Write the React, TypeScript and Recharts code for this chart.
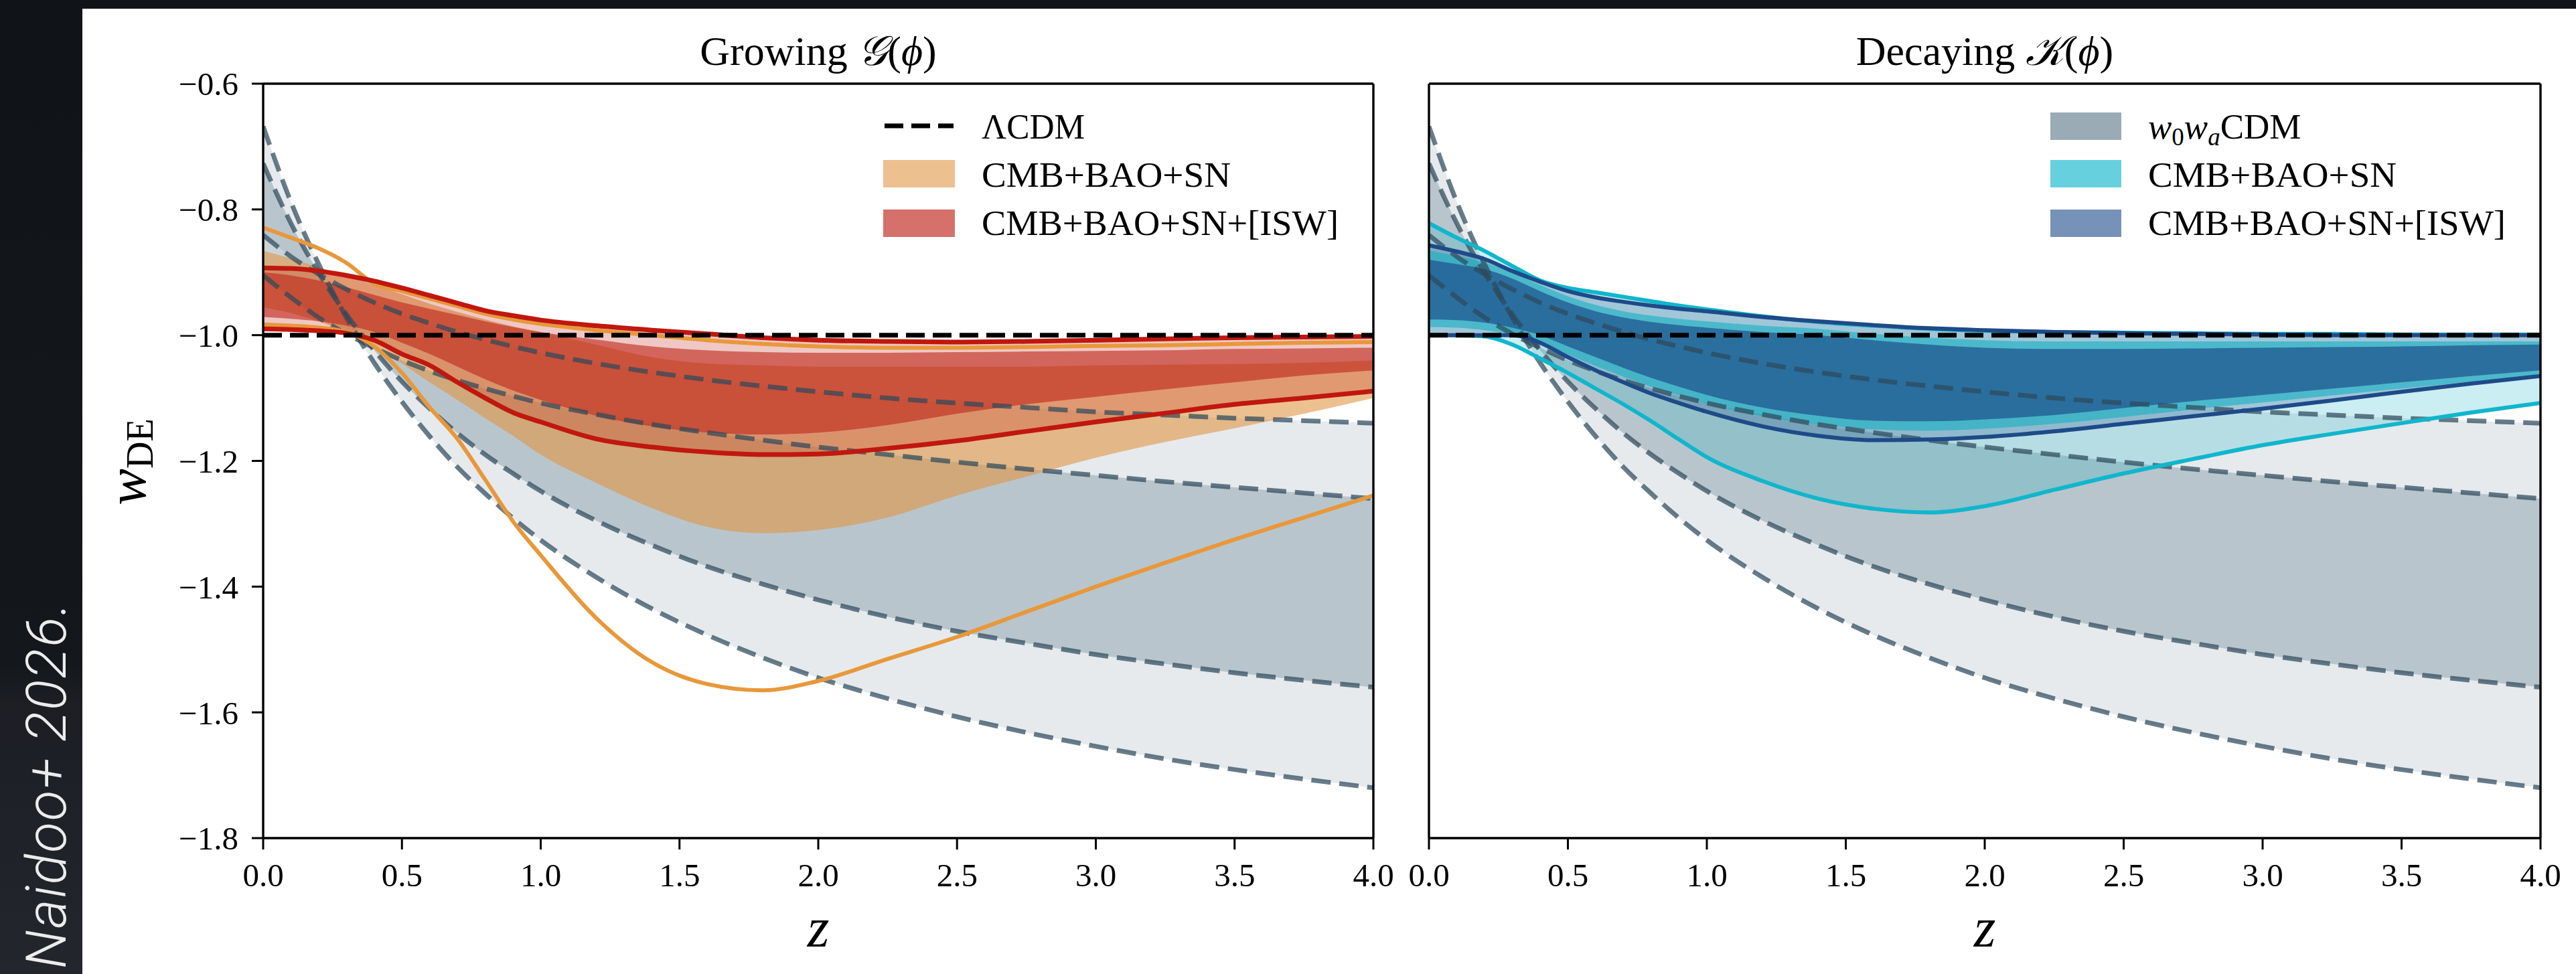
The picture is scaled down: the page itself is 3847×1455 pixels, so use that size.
import React from "react";
import { ComposedChart, Area, Line, XAxis, YAxis, ReferenceLine } from "recharts";

// redshift grid (shared by every curve)
const Z = [0, 0.1, 0.2, 0.3, 0.4, 0.5, 0.6, 0.7, 0.8, 0.9, 1.0, 1.2, 1.4, 1.6, 1.8, 2.0, 2.25, 2.5, 2.75, 3.0, 3.25, 3.5, 3.75, 4.0];

// w0waCDM contours (grey dashed, same in both panels)
const DASH_A = [-0.668, -0.788, -0.887, -0.972, -1.044, -1.106, -1.161, -1.21, -1.252, -1.291, -1.326, -1.385, -1.435, -1.477, -1.513, -1.545, -1.578, -1.607, -1.632, -1.654, -1.674, -1.691, -1.706, -1.72];
const DASH_B = [-0.727, -0.822, -0.901, -0.967, -1.024, -1.074, -1.117, -1.156, -1.19, -1.22, -1.248, -1.295, -1.334, -1.368, -1.396, -1.421, -1.448, -1.471, -1.49, -1.508, -1.523, -1.537, -1.549, -1.56];
const DASH_C = [-0.841, -0.875, -0.903, -0.927, -0.948, -0.966, -0.981, -0.995, -1.007, -1.018, -1.028, -1.045, -1.059, -1.071, -1.081, -1.09, -1.1, -1.108, -1.115, -1.122, -1.127, -1.132, -1.136, -1.14];
const DASH_D = [-0.905, -0.94, -0.972, -0.998, -1.02, -1.04, -1.057, -1.072, -1.085, -1.097, -1.108, -1.126, -1.142, -1.155, -1.167, -1.178, -1.19, -1.202, -1.213, -1.223, -1.233, -1.242, -1.251, -1.26];

// Growing G(phi): CMB+BAO+SN (orange)
const ORANGE_HI_LINE = [-0.829, -0.845, -0.862, -0.885, -0.918, -0.93, -0.942, -0.954, -0.966, -0.975, -0.982, -0.992, -1.0, -1.008, -1.014, -1.018, -1.02, -1.02, -1.019, -1.017, -1.016, -1.014, -1.012, -1.011];
const ORANGE_LO_LINE = [-0.983, -0.985, -0.988, -0.995, -1.018, -1.06, -1.115, -1.165, -1.23, -1.296, -1.35, -1.45, -1.52, -1.555, -1.565, -1.55, -1.515, -1.48, -1.44, -1.4, -1.362, -1.325, -1.29, -1.255];
const ORANGE_BAND_HI = [-0.866, -0.878, -0.892, -0.905, -0.92, -0.935, -0.95, -0.963, -0.975, -0.986, -0.995, -1.015, -1.035, -1.045, -1.048, -1.05, -1.05, -1.05, -1.05, -1.048, -1.047, -1.046, -1.044, -1.04];
const ORANGE_BAND_LO = [-0.956, -0.965, -0.978, -0.995, -1.018, -1.045, -1.075, -1.103, -1.132, -1.16, -1.19, -1.235, -1.275, -1.305, -1.315, -1.31, -1.29, -1.255, -1.225, -1.195, -1.17, -1.148, -1.125, -1.1];

// Growing G(phi): CMB+BAO+SN+[ISW] (red)
const RED_HI_LINE = [-0.893, -0.894, -0.898, -0.905, -0.914, -0.925, -0.937, -0.949, -0.961, -0.969, -0.976, -0.985, -0.992, -0.998, -1.004, -1.008, -1.01, -1.011, -1.01, -1.008, -1.006, -1.004, -1.003, -1.002];
const RED_LO_LINE = [-0.99, -0.991, -0.993, -0.997, -1.008, -1.03, -1.048, -1.075, -1.1, -1.123, -1.138, -1.165, -1.178, -1.186, -1.19, -1.189, -1.18, -1.168, -1.153, -1.138, -1.124, -1.11, -1.1, -1.089];
const RED_BAND_HI = [-0.9, -0.905, -0.913, -0.924, -0.936, -0.948, -0.958, -0.968, -0.978, -0.987, -0.995, -1.007, -1.018, -1.024, -1.027, -1.028, -1.028, -1.027, -1.026, -1.025, -1.024, -1.022, -1.021, -1.02];
const RED_BAND_LO = [-0.971, -0.974, -0.978, -0.985, -0.995, -1.012, -1.03, -1.05, -1.07, -1.088, -1.103, -1.128, -1.145, -1.155, -1.158, -1.155, -1.143, -1.125, -1.11, -1.098, -1.086, -1.075, -1.064, -1.056];

// Decaying K(phi): CMB+BAO+SN (cyan)
const CYAN_HI_LINE = [-0.822, -0.845, -0.866, -0.89, -0.913, -0.925, -0.932, -0.939, -0.946, -0.953, -0.959, -0.97, -0.979, -0.985, -0.99, -0.993, -0.995, -0.996, -0.997, -0.998, -0.998, -0.999, -0.999, -0.999];
const CYAN_LO_LINE = [-1.0, -1.0, -1.002, -1.015, -1.037, -1.06, -1.085, -1.11, -1.137, -1.166, -1.194, -1.232, -1.26, -1.276, -1.282, -1.272, -1.246, -1.22, -1.197, -1.175, -1.157, -1.14, -1.123, -1.108];
const CYAN_BAND_HI = [-0.865, -0.874, -0.884, -0.9, -0.92, -0.938, -0.952, -0.962, -0.969, -0.974, -0.978, -0.985, -0.99, -0.998, -1.004, -1.008, -1.01, -1.01, -1.01, -1.01, -1.01, -1.01, -1.01, -1.01];
const CYAN_BAND_LO = [-0.987, -0.988, -0.992, -1.0, -1.013, -1.031, -1.049, -1.066, -1.082, -1.096, -1.109, -1.129, -1.142, -1.15, -1.152, -1.149, -1.141, -1.13, -1.118, -1.107, -1.096, -1.085, -1.074, -1.063];

// Decaying K(phi): CMB+BAO+SN+[ISW] (navy)
const NAVY_HI_LINE = [-0.857, -0.867, -0.879, -0.898, -0.915, -0.93, -0.94, -0.947, -0.953, -0.958, -0.962, -0.971, -0.978, -0.984, -0.989, -0.992, -0.995, -0.997, -0.998, -0.999, -1.0, -1.0, -1.0, -1.0];
const NAVY_LO_LINE = [-1.0, -1.0, -1.0, -1.0, -1.012, -1.035, -1.056, -1.075, -1.093, -1.108, -1.122, -1.145, -1.16, -1.167, -1.166, -1.162, -1.153, -1.141, -1.129, -1.117, -1.104, -1.09, -1.077, -1.065];
const NAVY_BAND_HI = [-0.88, -0.887, -0.895, -0.91, -0.93, -0.948, -0.962, -0.972, -0.979, -0.984, -0.988, -0.995, -1.0, -1.008, -1.015, -1.02, -1.022, -1.022, -1.021, -1.02, -1.019, -1.018, -1.016, -1.015];
const NAVY_BAND_LO = [-0.975, -0.976, -0.98, -0.988, -1.0, -1.018, -1.035, -1.052, -1.068, -1.082, -1.095, -1.115, -1.128, -1.136, -1.137, -1.134, -1.127, -1.116, -1.105, -1.095, -1.085, -1.075, -1.065, -1.056];

const Z_TICKS = [0, 0.5, 1, 1.5, 2, 2.5, 3, 3.5, 4];
const W_TICKS = [-1.8, -1.6, -1.4, -1.2, -1.0, -0.8, -0.6];
const LCDM_W = -1;

const rows = Z.map((z, i) => ({
  z,
  grey2: [DASH_A[i], DASH_C[i]],
  grey1: [DASH_B[i], DASH_D[i]],
  dA: DASH_A[i],
  dB: DASH_B[i],
  dC: DASH_C[i],
  dD: DASH_D[i],
  orangeBand: [ORANGE_BAND_LO[i], ORANGE_BAND_HI[i]],
  red2: [RED_LO_LINE[i], RED_HI_LINE[i]],
  red1: [RED_BAND_LO[i], RED_BAND_HI[i]],
  orangeHi: ORANGE_HI_LINE[i],
  orangeLo: ORANGE_LO_LINE[i],
  redHi: RED_HI_LINE[i],
  redLo: RED_LO_LINE[i],
  cyan2: [CYAN_LO_LINE[i], CYAN_HI_LINE[i]],
  navy2: [NAVY_LO_LINE[i], NAVY_HI_LINE[i]],
  cyan1: [CYAN_BAND_LO[i], CYAN_BAND_HI[i]],
  navy1: [NAVY_BAND_LO[i], NAVY_BAND_HI[i]],
  cyanHi: CYAN_HI_LINE[i],
  cyanLo: CYAN_LO_LINE[i],
  navyHi: NAVY_HI_LINE[i],
  navyLo: NAVY_LO_LINE[i],
}));

const SERIF = '"Liberation Serif", "DejaVu Serif", serif';
const TICK = { fontSize: 49, fill: "#000", fontFamily: SERIF };
const AX = { xAxisId: "b", yAxisId: "l" };
const GREY = "#5F7A8A";
const DASH_COLOR = "#2E4A5C";
const FRAME = { stroke: "#000", strokeWidth: 3.4 };

const fmtZ = (v: number) => v.toFixed(1);
const fmtW = (v: number) => (v < 0 ? "\u2212" : "") + Math.abs(v).toFixed(1);

const band = (key: string, color: string, opacity: number) => (
  <Area key={key} {...AX} type="monotone" dataKey={key} fill={color} fillOpacity={opacity}
    stroke="none" dot={false} activeDot={false} isAnimationActive={false} />
);

const curve = (key: string, color: string, width: number, dash?: string, opacity = 1) => (
  <Line key={key} {...AX} type="monotone" dataKey={key} stroke={color} strokeWidth={width}
    strokeDasharray={dash} strokeOpacity={opacity} dot={false} activeDot={false} isAnimationActive={false} />
);

const greyBands = () => [band("grey2", GREY, 0.156), band("grey1", GREY, 0.33)];
const greyDashes = () => ["dA", "dB", "dC", "dD"].map((k) => curve(k, DASH_COLOR, 7, "29 13", 0.72));

const ZLabel = (props: any) => {
  const vb = props.viewBox || { x: 0, width: 0 };
  return (
    <text x={vb.x + vb.width / 2} y={1414} textAnchor="middle" fontFamily={SERIF} fontSize={84} fontStyle="italic">
      z
    </text>
  );
};

const YLabel = () => (
  <text x={217} y={690} transform="rotate(-90 217 690)" textAnchor="middle" fontFamily={SERIF} fontSize={82}>
    <tspan fontStyle="italic">w</tspan>
    <tspan fontSize={56} dy={11}>DE</tspan>
  </text>
);

// showY: tick labels on the left axis (left panel only)
const axes = (showY: boolean) => [
  <XAxis key="xb" xAxisId="b" type="number" dataKey="z" domain={[0, 4]} ticks={Z_TICKS} interval={0}
    tickFormatter={fmtZ} height={120} axisLine={FRAME}
    tickLine={{ stroke: "#000", strokeWidth: 3 }} tickSize={17} tickMargin={20} tick={TICK}
    allowDataOverflow label={<ZLabel />} />,
  <XAxis key="xt" xAxisId="t" orientation="top" type="number" dataKey="z" domain={[0, 4]} ticks={Z_TICKS}
    height={1} tick={false} tickLine={false} axisLine={FRAME} />,
  <YAxis key="yl" yAxisId="l" type="number" domain={[-1.8, -0.6]} ticks={W_TICKS} interval={0}
    width={showY ? 270 : 1} tickFormatter={fmtW} allowDataOverflow axisLine={FRAME}
    tickLine={showY ? { stroke: "#000", strokeWidth: 3 } : false} tickSize={17} tickMargin={20}
    tick={showY ? TICK : false} label={showY ? <YLabel /> : undefined} />,
  <YAxis key="yr" yAxisId="r" orientation="right" type="number" domain={[-1.8, -0.6]} ticks={W_TICKS}
    width={1} tick={false} tickLine={false} axisLine={FRAME} />,
];

const lcdm = () => (
  <ReferenceLine key="lcdm" {...AX} y={LCDM_W} stroke="#000" strokeWidth={7} strokeDasharray="28 12" />
);

const GrowingPanel = () => (
  <ComposedChart width={2090} height={1455} data={rows} margin={{ top: 124, right: 38, bottom: 83, left: 123 }}>
    {axes(true)}
    {greyBands()}
    {band("orangeBand", "#E0923E", 0.58)}
    {band("red2", "#BE2418", 0.25)}
    {band("red1", "#BE2418", 0.6)}
    {greyDashes()}
    {curve("orangeHi", "#E8983A", 6)}
    {curve("orangeLo", "#E8983A", 6)}
    {curve("redHi", "#C0170F", 7)}
    {curve("redLo", "#C0170F", 7)}
    {lcdm()}
  </ComposedChart>
);

const DecayingPanel = () => (
  <ComposedChart width={1757} height={1455} data={rows} margin={{ top: 124, right: 52, bottom: 83, left: 43 }}>
    {axes(false)}
    {greyBands()}
    {band("cyan2", "#12B1C3", 0.22)}
    {band("navy2", "#1E508C", 0.25)}
    {band("cyan1", "#12B1C3", 0.6)}
    {band("navy1", "#1E508C", 0.7)}
    {greyDashes()}
    {curve("cyanHi", "#10B6CC", 6)}
    {curve("cyanLo", "#10B6CC", 6)}
    {curve("navyHi", "#1F4A88", 6)}
    {curve("navyLo", "#1F4A88", 6)}
    {lcdm()}
  </ComposedChart>
);

const LEG_FONT = 53;
const ROW_BASE = [207, 279, 351];
const FIT = { lengthAdjust: "spacingAndGlyphs" as const };

const Overlay = () => (
  <svg width={3847} height={1455} style={{ position: "absolute", left: 0, top: 0, pointerEvents: "none" }}>
    <defs>
      <linearGradient id="strip" x1="0" y1="0" x2="0" y2="1">
        <stop offset="0" stopColor="#101317" />
        <stop offset="0.68" stopColor="#14171b" />
        <stop offset="0.72" stopColor="#1c1e24" />
        <stop offset="1" stopColor="#24262e" />
      </linearGradient>
    </defs>
    <rect x={0} y={0} width={3847} height={13} fill="#101317" />
    <rect x={0} y={0} width={123} height={1455} fill="url(#strip)" />
    <text x={98} y={1447} transform="rotate(-90 98 1447)" fontFamily="Roboto" fontWeight={300}
      fontStyle="italic" fontSize={84} fill="#ECECEC" textLength={547}>
      Naidoo+ 2026.
    </text>

    <text x={1222} y={97} textAnchor="middle" fontFamily={SERIF} fontSize={62}>
      Growing <tspan fontStyle="italic" fontFamily='"DejaVu Serif", "DejaVu Sans", serif'>𝒢</tspan>(<tspan fontStyle="italic">ϕ</tspan>)
    </text>
    <text x={2964} y={97} textAnchor="middle" fontFamily={SERIF} fontSize={62}>
      Decaying <tspan fontStyle="italic" fontFamily='"DejaVu Serif", "DejaVu Sans", serif'>𝒦</tspan>(<tspan fontStyle="italic">ϕ</tspan>)
    </text>

    <g fontFamily={SERIF} fontSize={LEG_FONT}>
      <line x1={1321} x2={1424} y1={188} y2={188} stroke="#000" strokeWidth={7} strokeDasharray="28 12" />
      <rect x={1319} y={239} width={107} height={41} fill="#EDC08F" />
      <rect x={1319} y={313} width={107} height={41} fill="#D6706A" />
      <text x={1466} y={ROW_BASE[0]} textLength={154} {...FIT}>ΛCDM</text>
      <text x={1466} y={ROW_BASE[1]} textLength={372} {...FIT}>CMB+BAO+SN</text>
      <text x={1466} y={ROW_BASE[2]} textLength={533} {...FIT}>CMB+BAO+SN+[ISW]</text>

      <rect x={3062} y={168} width={106} height={41} fill="#9AABB6" />
      <rect x={3062} y={239} width={106} height={41} fill="#66D0DE" />
      <rect x={3062} y={313} width={106} height={41} fill="#7792B8" />
      <text x={3208} y={ROW_BASE[0]}>
        <tspan fontStyle="italic">w</tspan>
        <tspan fontSize={37} dy={10}>0</tspan>
        <tspan fontStyle="italic" dy={-10}>w</tspan>
        <tspan fontSize={37} fontStyle="italic" dy={10}>a</tspan>
        <tspan dy={-10}>CDM</tspan>
      </text>
      <text x={3208} y={ROW_BASE[1]} textLength={371} {...FIT}>CMB+BAO+SN</text>
      <text x={3208} y={ROW_BASE[2]} textLength={534} {...FIT}>CMB+BAO+SN+[ISW]</text>
    </g>
  </svg>
);

export default function App() {
  return (
    <div style={{ position: "absolute", left: 0, top: 0, width: 3847, height: 1455, background: "#fff", overflow: "hidden" }}>
      <div style={{ position: "absolute", left: 0, top: 0 }}>
        <GrowingPanel />
      </div>
      <div style={{ position: "absolute", left: 2090, top: 0 }}>
        <DecayingPanel />
      </div>
      <Overlay />
    </div>
  );
}
